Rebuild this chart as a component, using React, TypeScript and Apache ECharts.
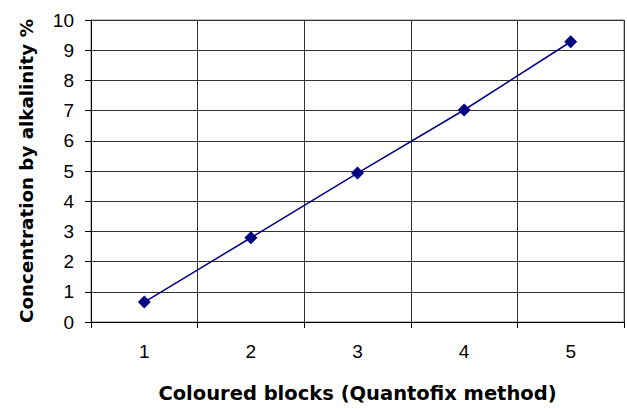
import React, { useEffect, useRef } from "react";
import * as echarts from "echarts";

const categories = ["1", "2", "3", "4", "5"];
const concentration = [0.66, 2.79, 4.93, 7.02, 9.28];
const xTitle = "Coloured blocks (Quantofix method)";
const yTitle = "Concentration by alkalinity %";

export default function App() {
  const ref = useRef<HTMLDivElement>(null);
  useEffect(() => {
    if (!ref.current) return;
    const chart = echarts.init(ref.current, null, { renderer: "svg" });
    const titleStyle = {
      fontSize: 18,
      fontWeight: "bold",
      color: "#000",
      fontFamily: "DejaVu Sans, sans-serif",
    };
    chart.setOption({
      animation: false,
      backgroundColor: "#ffffff",
      textStyle: { fontFamily: "Liberation Sans, Arial, sans-serif" },
      grid: {
        left: 91,
        top: 20,
        right: 3,
        bottom: 87,
        show: true,
        borderColor: "#808080",
        borderWidth: 1,
      },
      xAxis: {
        type: "category",
        data: categories,
        boundaryGap: true,
        name: xTitle,
        nameLocation: "middle",
        nameGap: 61,
        nameTextStyle: { ...titleStyle, fontSize: 19.5 },
        axisLine: { lineStyle: { color: "#000", width: 1 } },
        axisTick: { show: true, length: 6, lineStyle: { color: "#000" } },
        axisLabel: { fontSize: 19, color: "#000", margin: 20 },
        splitLine: { show: true, lineStyle: { color: "#333", width: 1 } },
      },
      yAxis: {
        type: "value",
        min: 0,
        max: 10,
        interval: 1,
        name: yTitle,
        nameLocation: "middle",
        nameGap: 56,
        nameTextStyle: { ...titleStyle, fontSize: 18.3 },
        axisLine: { show: true, lineStyle: { color: "#000", width: 1 } },
        axisTick: { show: true, length: 6, lineStyle: { color: "#000" } },
        axisLabel: { fontSize: 19, color: "#000", margin: 17 },
        splitLine: { show: true, lineStyle: { color: "#333", width: 1 } },
      },
      series: [
        {
          type: "line",
          data: concentration,
          symbol: "diamond",
          symbolSize: 13,
          itemStyle: { color: "#000080" },
          lineStyle: { color: "#000080", width: 1.5 },
        },
      ],
    });
    return () => chart.dispose();
  }, []);
  return <div ref={ref} style={{ width: 627, height: 409, position: "absolute", left: 0, top: 0 }} />;
}
